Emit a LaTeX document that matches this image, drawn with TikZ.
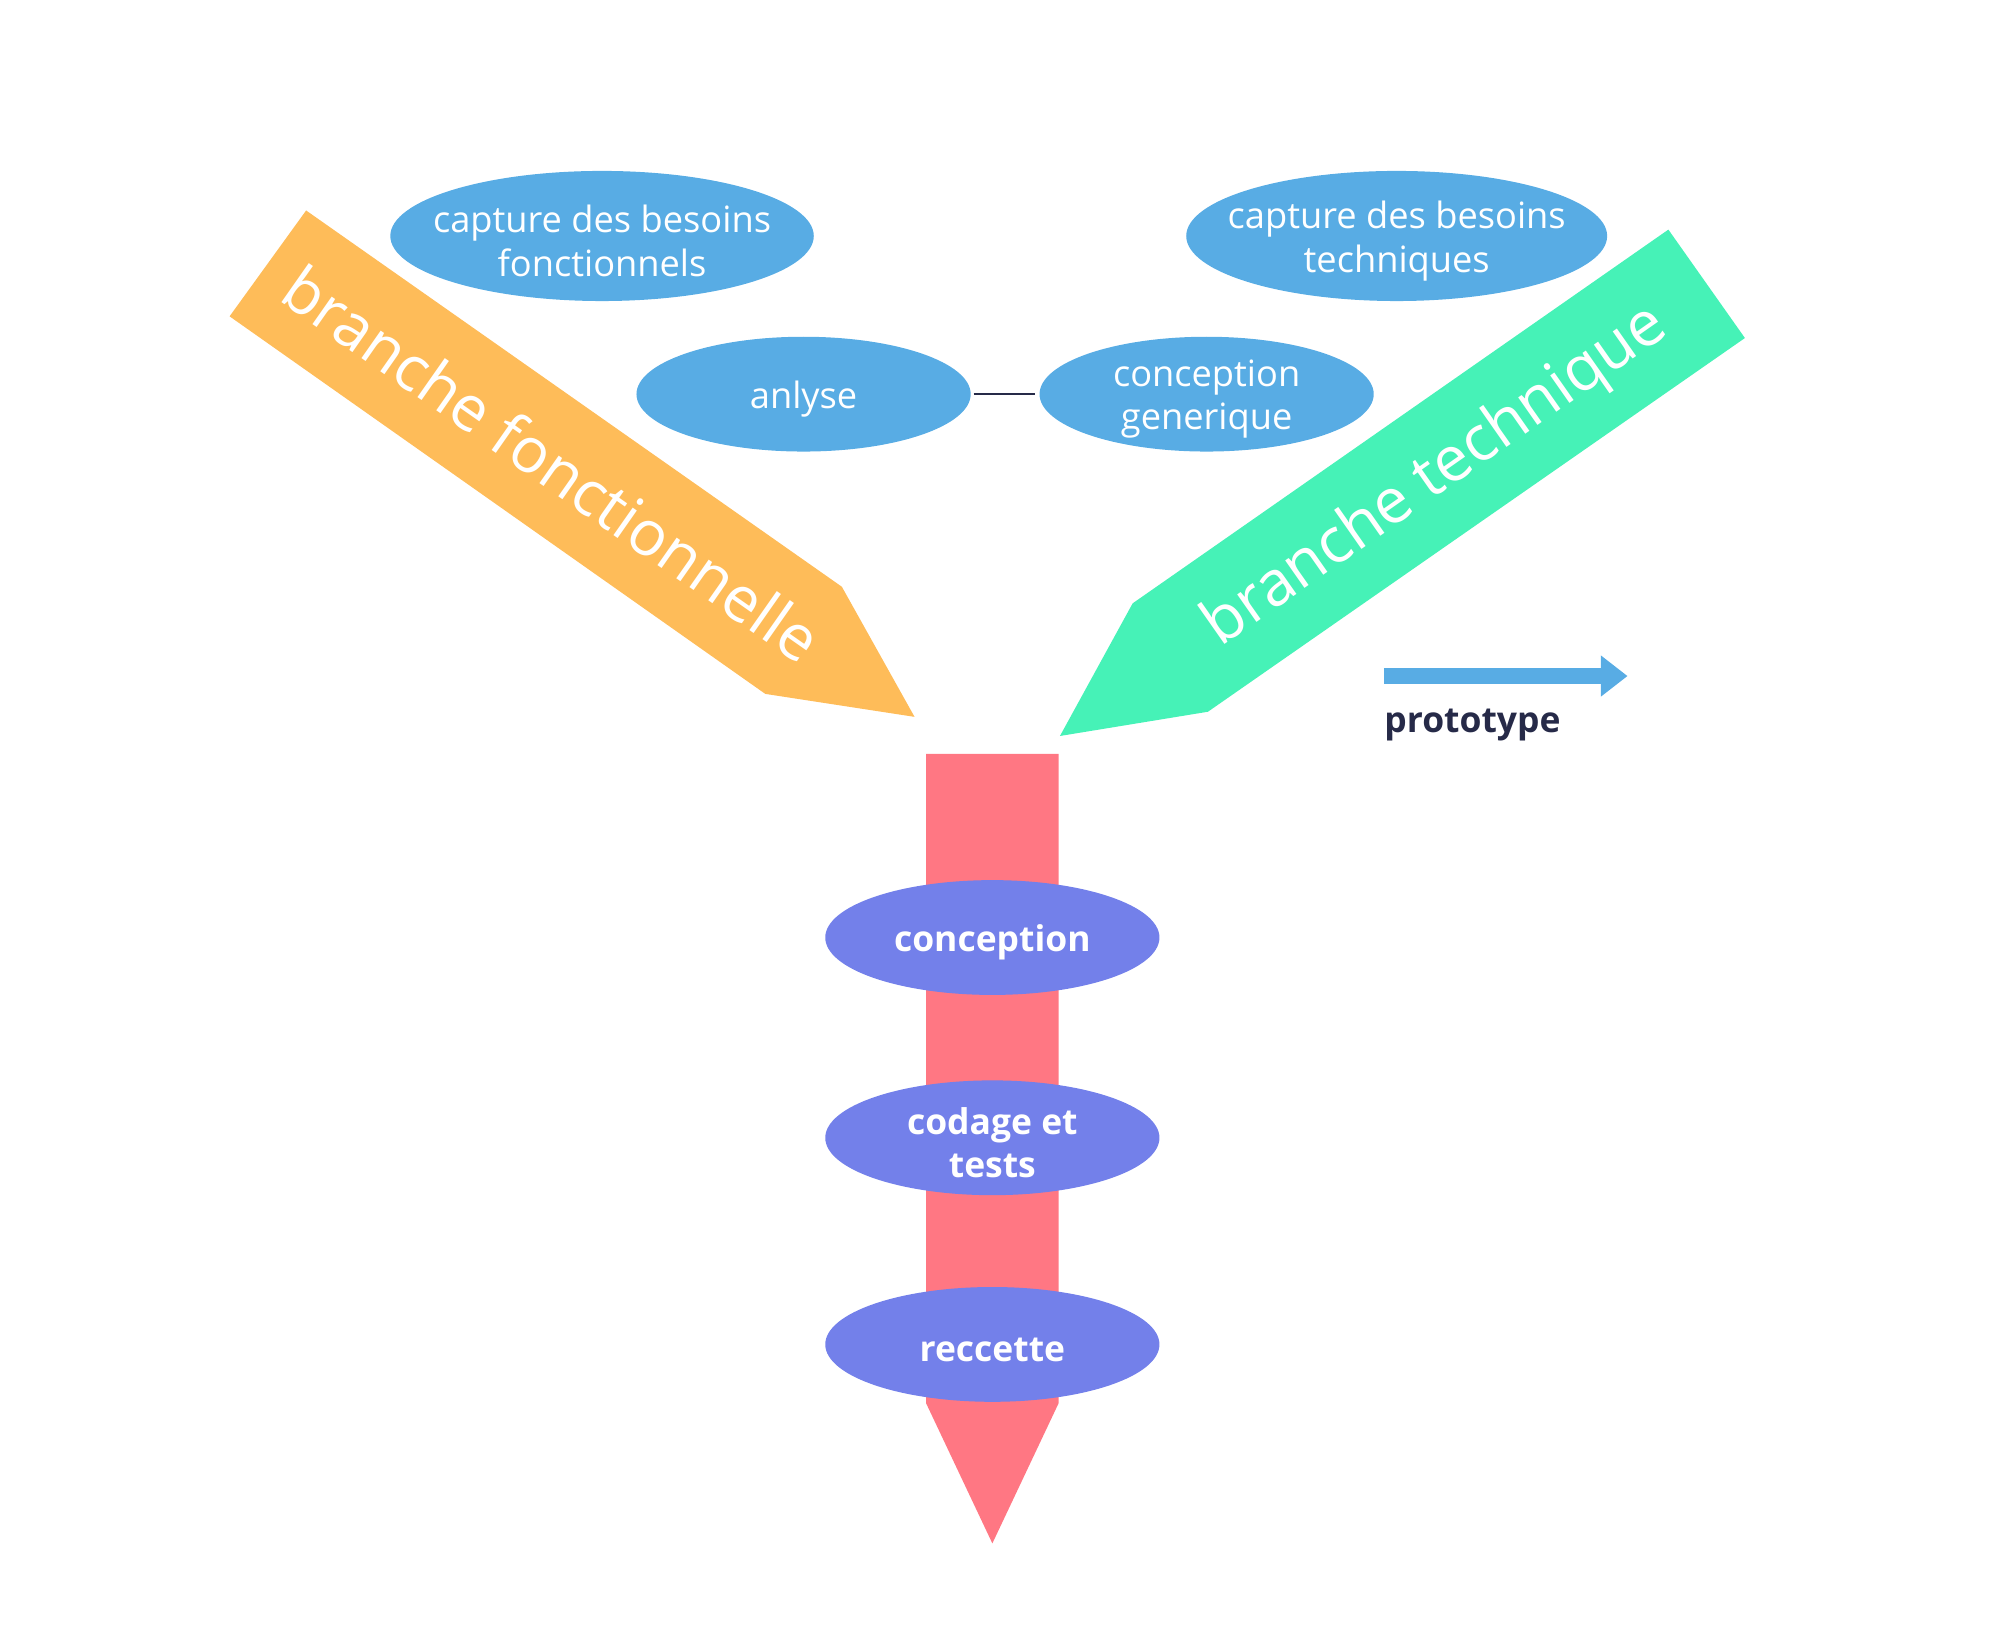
\documentclass[tikz,border=0pt]{standalone}
\usepackage{fontspec}
\setmainfont{Open Sans}
\usetikzlibrary{shapes.geometric}
\usetikzlibrary{arrows.meta}
\definecolor{fonct}{HTML}{FEBC59}
\definecolor{techn}{HTML}{46F2B7}
\definecolor{tronc}{HTML}{FF7783}
\definecolor{phasebleu}{HTML}{58ACE4}
\definecolor{phaseviolet}{HTML}{7380EA}
\definecolor{encre}{HTML}{262A48}
\tikzset{
  phase/.style={ellipse, fill=phasebleu, inner sep=0pt},
  etape/.style={ellipse, fill=phaseviolet, inner sep=0pt, minimum width=131pt, minimum height=45pt},
  phasetxt/.style={text=white, inner sep=0pt, align=center, yshift=-2pt,
    font=\fontsize{14.2}{17}\selectfont},
  etapetxt/.style={phasetxt, font=\bfseries\fontsize{13.9}{17}\selectfont},
  branche/.style={text=white, font=\fontsize{24.6}{28}\selectfont}
}

\begin{document}
\begin{tikzpicture}[x=0.5pt, y=-0.5pt]
        \useasboundingbox (0,0) rectangle (1568,1287);
        % branches
        \fill[fonct] (240,165) -- (660,460) -- (717,562) -- (600,544) -- (180,248) -- cycle;
        \fill[techn] (1308,180) -- (1368,265) -- (947,558) -- (831,577) -- (888,473) -- cycle;
        \fill[tronc] (726,591) -- (830,591) -- (830,1100) -- (778,1210) -- (726,1100) -- cycle;
        \node[branche, rotate=-35] (bf) at (433,363) {branche fonctionnelle};
        \node[branche, rotate=35] (bt) at (1126,374) {branche technique};
        % phases
        \node[phase, minimum width=166pt, minimum height=51pt,
          label={[phasetxt]center:capture des besoins\\fonctionnels}] (cbf) at (472,185) {};
        \node[phase, minimum width=165pt, minimum height=51pt,
          label={[phasetxt]center:capture des besoins\\techniques}] (cbt) at (1095,185) {};
        \node[phase, minimum width=131pt, minimum height=45pt,
          label={[phasetxt]center:anlyse}] (an) at (630,309) {};
        \node[phase, minimum width=131pt, minimum height=45pt,
          label={[phasetxt]center:conception\\generique}] (cg) at (946,309) {};
        \draw[encre, line width=0.9pt, shorten <=1pt, shorten >=1.5pt] (an.east) -- (cg.west);
        % tronc commun
        \node[etape, label={[etapetxt]center:conception}] (co) at (778,735) {};
        \node[etape, label={[etapetxt]center:codage et\\tests}] (ct) at (778,892) {};
        \node[etape, label={[etapetxt]center:reccette}] (re) at (778,1054) {};
        % prototype
        \coordinate (p0) at (1085,530);
        \coordinate (p1) at (1276,530);
        \draw[phasebleu, line width=6.5pt, -{Triangle[length=10.5pt, width=15.5pt]}] (p0) -- (p1);
        \node[anchor=base west, inner sep=0pt, text=encre, font=\bfseries\fontsize{13.9}{17}\selectfont] (pr) at (1085,574) {prototype};
\end{tikzpicture}
\end{document}
